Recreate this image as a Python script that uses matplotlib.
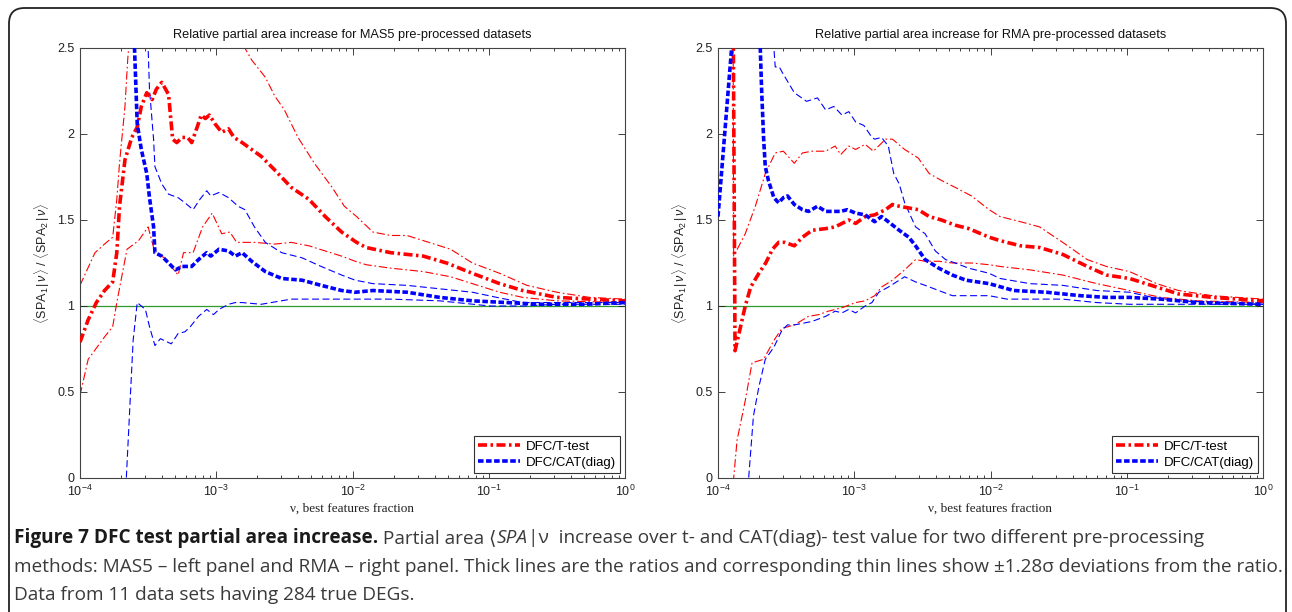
import numpy as np
import matplotlib
matplotlib.use("Agg")
import matplotlib.pyplot as plt
from matplotlib.patches import FancyBboxPatch
from matplotlib.ticker import LogLocator, FixedLocator, NullFormatter

plt.rcParams['font.family'] = ['Liberation Sans', 'DejaVu Sans']
plt.rcParams['mathtext.fontset'] = 'custom'
plt.rcParams['mathtext.rm'] = 'Liberation Sans'
plt.rcParams['mathtext.it'] = 'Liberation Sans:italic'
plt.rcParams['mathtext.bf'] = 'Liberation Sans:bold'
plt.rcParams['lines.scale_dashes'] = False

# ---------------- data: (log10 nu, ratio) ----------------
panel_titles = ["Relative partial area increase for MAS5 pre-processed datasets",
                "Relative partial area increase for RMA pre-processed datasets"]
legend_labels = ["DFC/T-test", "DFC/CAT(diag)"]
y_ticks = [0, 0.5, 1, 1.5, 2, 2.5]
y_tick_labels = ["0", "0.5", "1", "1.5", "2", "2.5"]

mas5_t_ratio = [(-4.00, 0.79), (-3.94, 0.92), (-3.88, 1.02), (-3.82, 1.09), (-3.76, 1.14),
                (-3.73, 1.31), (-3.71, 1.58), (-3.67, 1.85), (-3.62, 1.98), (-3.58, 2.04),
                (-3.55, 2.16), (-3.51, 2.24), (-3.47, 2.20), (-3.44, 2.26), (-3.40, 2.30),
                (-3.35, 2.23), (-3.32, 1.97), (-3.29, 1.95), (-3.25, 1.98), (-3.21, 1.98),
                (-3.18, 1.95), (-3.14, 2.04), (-3.11, 2.11), (-3.08, 2.09), (-3.05, 2.11),
                (-3.01, 2.06), (-2.96, 2.01), (-2.91, 2.03), (-2.87, 1.98), (-2.81, 1.95),
                (-2.74, 1.91), (-2.67, 1.87), (-2.57, 1.79), (-2.45, 1.69), (-2.32, 1.62),
                (-2.20, 1.52), (-2.08, 1.43), (-1.97, 1.37), (-1.90, 1.34), (-1.72, 1.31),
                (-1.48, 1.29), (-1.31, 1.25), (-1.12, 1.19), (-0.92, 1.13), (-0.75, 1.09),
                (-0.50, 1.05), (-0.26, 1.04), (0.00, 1.03)]
mas5_t_hi = [(-4.00, 1.12), (-3.89, 1.31), (-3.82, 1.36), (-3.76, 1.40), (-3.73, 1.62),
             (-3.71, 1.83), (-3.67, 2.16), (-3.65, 2.43), (-3.62, 2.75), (-3.40, 3.20),
             (-2.95, 3.00), (-2.86, 2.75), (-2.79, 2.50), (-2.74, 2.43), (-2.64, 2.33),
             (-2.57, 2.22), (-2.50, 2.14), (-2.40, 1.98), (-2.28, 1.83), (-2.15, 1.69),
             (-2.06, 1.58), (-1.97, 1.52), (-1.85, 1.43), (-1.72, 1.41), (-1.60, 1.41),
             (-1.48, 1.38), (-1.28, 1.33), (-1.12, 1.25), (-0.92, 1.19), (-0.72, 1.12),
             (-0.50, 1.08), (-0.26, 1.05), (0.00, 1.04)]
mas5_t_lo = [(-4.00, 0.48), (-3.94, 0.69), (-3.82, 0.82), (-3.76, 0.88), (-3.73, 1.02),
             (-3.655, 1.33), (-3.57, 1.38), (-3.50, 1.46), (-3.45, 1.31), (-3.38, 1.28),
             (-3.28, 1.18), (-3.24, 1.31), (-3.17, 1.31), (-3.10, 1.46), (-3.03, 1.54),
             (-2.96, 1.42), (-2.90, 1.43), (-2.85, 1.37), (-2.72, 1.37), (-2.57, 1.36),
             (-2.45, 1.37), (-2.32, 1.35), (-2.20, 1.32), (-2.08, 1.29), (-1.98, 1.26),
             (-1.90, 1.24), (-1.72, 1.22), (-1.48, 1.20), (-1.28, 1.17), (-1.12, 1.13),
             (-0.92, 1.08), (-0.75, 1.05), (-0.50, 1.03), (0.00, 1.02)]
mas5_c_ratio = [(-3.62, 2.90), (-3.60, 2.50), (-3.58, 2.06), (-3.55, 1.91), (-3.51, 1.77),
                (-3.49, 1.63), (-3.46, 1.46), (-3.45, 1.31), (-3.40, 1.29), (-3.35, 1.25),
                (-3.30, 1.21), (-3.25, 1.23), (-3.18, 1.23), (-3.13, 1.27), (-3.07, 1.31),
                (-3.04, 1.29), (-2.98, 1.33), (-2.91, 1.32), (-2.86, 1.29), (-2.81, 1.31),
                (-2.74, 1.26), (-2.64, 1.20), (-2.52, 1.16), (-2.37, 1.15), (-2.23, 1.12),
                (-2.08, 1.09), (-1.98, 1.08), (-1.85, 1.09), (-1.60, 1.08), (-1.36, 1.05),
                (-1.12, 1.03), (-0.87, 1.02), (-0.62, 1.01), (-0.30, 1.01), (0.00, 1.02)]
mas5_c_hi = [(-3.52, 2.90), (-3.50, 2.50), (-3.49, 2.26), (-3.46, 1.97), (-3.45, 1.81),
             (-3.40, 1.71), (-3.35, 1.65), (-3.28, 1.63), (-3.23, 1.60), (-3.17, 1.56),
             (-3.12, 1.62), (-3.07, 1.67), (-3.04, 1.64), (-2.98, 1.66), (-2.91, 1.63),
             (-2.84, 1.58), (-2.79, 1.56), (-2.72, 1.46), (-2.64, 1.37), (-2.52, 1.31),
             (-2.37, 1.28), (-2.23, 1.23), (-2.08, 1.18), (-1.98, 1.15), (-1.85, 1.13),
             (-1.60, 1.12), (-1.36, 1.10), (-1.12, 1.08), (-0.94, 1.05), (-0.75, 1.02),
             (0.00, 1.02)]
mas5_c_lo = [(-3.68, -0.30), (-3.66, 0.00), (-3.61, 0.80), (-3.58, 1.02), (-3.52, 0.98),
             (-3.49, 0.88), (-3.45, 0.77), (-3.41, 0.81), (-3.33, 0.78), (-3.28, 0.84),
             (-3.23, 0.85), (-3.19, 0.88), (-3.13, 0.94), (-3.07, 0.98), (-3.02, 0.95),
             (-2.98, 0.98), (-2.91, 1.01), (-2.86, 1.02), (-2.81, 1.02), (-2.67, 1.01),
             (-2.45, 1.04), (-2.13, 1.04), (-1.72, 1.04), (-1.36, 1.03), (-0.99, 1.00),
             (-0.75, 1.00), (-0.50, 1.01), (0.00, 1.01)]

rma_t_ratio = [(-4.00, 3.20), (-3.89, 2.90), (-3.875, 0.74), (-3.84, 0.86), (-3.80, 1.00),
               (-3.76, 1.11), (-3.70, 1.19), (-3.65, 1.25), (-3.60, 1.33), (-3.555, 1.37),
               (-3.51, 1.37), (-3.44, 1.35), (-3.38, 1.40), (-3.31, 1.44), (-3.21, 1.45),
               (-3.14, 1.46), (-3.04, 1.50), (-2.99, 1.48), (-2.92, 1.52), (-2.85, 1.53),
               (-2.77, 1.56), (-2.72, 1.59), (-2.67, 1.58), (-2.60, 1.57), (-2.53, 1.56),
               (-2.45, 1.52), (-2.36, 1.50), (-2.26, 1.47), (-2.16, 1.45), (-2.01, 1.40),
               (-1.93, 1.38), (-1.78, 1.35), (-1.64, 1.34), (-1.47, 1.30), (-1.29, 1.23),
               (-1.15, 1.18), (-0.98, 1.16), (-0.78, 1.11), (-0.62, 1.07), (-0.37, 1.05),
               (0.00, 1.03)]
rma_t_hi = [(-4.00, 3.30), (-3.89, 3.00), (-3.885, 1.29), (-3.80, 1.42), (-3.726, 1.58),
            (-3.653, 1.77), (-3.58, 1.89), (-3.52, 1.90), (-3.44, 1.83), (-3.38, 1.89),
            (-3.31, 1.90), (-3.21, 1.90), (-3.14, 1.93), (-3.10, 1.88), (-3.04, 1.93),
            (-2.99, 1.91), (-2.92, 1.94), (-2.86, 1.90), (-2.77, 1.97), (-2.72, 1.97),
            (-2.63, 1.91), (-2.53, 1.86), (-2.45, 1.77), (-2.36, 1.73), (-2.26, 1.69),
            (-2.14, 1.64), (-2.01, 1.56), (-1.93, 1.52), (-1.78, 1.49), (-1.64, 1.46),
            (-1.47, 1.37), (-1.29, 1.27), (-1.15, 1.23), (-0.98, 1.20), (-0.78, 1.13),
            (-0.62, 1.09), (-0.37, 1.06), (0.00, 1.04)]
rma_t_lo = [(-3.89, -0.30), (-3.885, 0.00), (-3.86, 0.22), (-3.80, 0.45), (-3.75, 0.67),
            (-3.665, 0.69), (-3.59, 0.80), (-3.53, 0.87), (-3.44, 0.89), (-3.335, 0.94),
            (-3.26, 0.95), (-3.19, 0.97), (-3.09, 0.99), (-2.99, 1.02), (-2.92, 1.03),
            (-2.85, 1.06), (-2.80, 1.11), (-2.72, 1.15), (-2.63, 1.21), (-2.55, 1.27),
            (-2.48, 1.26), (-2.38, 1.26), (-2.28, 1.25), (-2.14, 1.25), (-2.01, 1.24),
            (-1.93, 1.23), (-1.71, 1.21), (-1.47, 1.18), (-1.22, 1.13), (-0.98, 1.09),
            (-0.75, 1.05), (-0.48, 1.03), (0.00, 1.02)]
rma_c_ratio = [(-4.00, 1.52), (-3.90, 2.50), (-3.88, 2.90), (-3.72, 3.20), (-3.70, 2.75),
               (-3.68, 2.26), (-3.665, 1.97), (-3.653, 1.81), (-3.63, 1.73), (-3.59, 1.63),
               (-3.555, 1.60), (-3.52, 1.63), (-3.49, 1.64), (-3.44, 1.59), (-3.38, 1.56),
               (-3.335, 1.55), (-3.27, 1.58), (-3.21, 1.55), (-3.10, 1.55), (-3.05, 1.56),
               (-2.99, 1.54), (-2.92, 1.53), (-2.85, 1.49), (-2.80, 1.52), (-2.75, 1.49),
               (-2.67, 1.44), (-2.60, 1.40), (-2.55, 1.35), (-2.48, 1.27), (-2.38, 1.22),
               (-2.28, 1.18), (-2.18, 1.15), (-2.01, 1.13), (-1.83, 1.09), (-1.59, 1.08),
               (-1.34, 1.06), (-1.15, 1.05), (-0.98, 1.05), (-0.75, 1.04), (-0.48, 1.02),
               (0.00, 1.01)]
rma_c_hi = [(-3.62, 3.20), (-3.59, 2.50), (-3.58, 2.39), (-3.55, 2.39), (-3.53, 2.36),
            (-3.44, 2.24), (-3.35, 2.19), (-3.27, 2.21), (-3.21, 2.14), (-3.15, 2.16),
            (-3.09, 2.11), (-3.04, 2.13), (-2.99, 2.07), (-2.93, 2.05), (-2.87, 1.98),
            (-2.85, 1.97), (-2.80, 1.98), (-2.75, 1.93), (-2.71, 1.77), (-2.67, 1.71),
            (-2.63, 1.60), (-2.55, 1.46), (-2.48, 1.42), (-2.405, 1.32), (-2.33, 1.27),
            (-2.26, 1.25), (-2.16, 1.22), (-2.01, 1.19), (-1.93, 1.16), (-1.71, 1.13),
            (-1.47, 1.12), (-1.22, 1.09), (-0.98, 1.08), (-0.81, 1.05), (-0.62, 1.03),
            (0.00, 1.01)]
rma_c_lo = [(-3.79, -0.30), (-3.775, 0.00), (-3.74, 0.36), (-3.70, 0.53), (-3.653, 0.69),
            (-3.59, 0.76), (-3.53, 0.86), (-3.49, 0.89), (-3.44, 0.89), (-3.31, 0.91),
            (-3.21, 0.94), (-3.14, 0.97), (-3.09, 0.96), (-3.04, 0.98), (-2.99, 0.96),
            (-2.92, 1.00), (-2.87, 1.02), (-2.82, 1.08), (-2.75, 1.11), (-2.67, 1.15),
            (-2.63, 1.17), (-2.55, 1.14), (-2.48, 1.12), (-2.38, 1.09), (-2.28, 1.06),
            (-2.16, 1.06), (-2.01, 1.06), (-1.88, 1.04), (-1.71, 1.04), (-1.47, 1.04),
            (-1.22, 1.02), (-0.98, 1.01), (0.00, 1.01)]

caption_bold = "Figure 7 DFC test partial area increase."
caption_line1 = [(" Partial area \u27e8", "normal"), ("SPA", "italic"),
                 ("|\u03bd  increase over t- and CAT(diag)- test value for two different pre-processing", "normal")]
caption_line2 = ("methods: MAS5 \u2013 left panel and RMA \u2013 right panel. Thick lines are the ratios "
                 "and corresponding thin lines show \u00b11.28\u03c3 deviations from the ratio.")
caption_line3 = "Data from 11 data sets having 284 true DEGs."

# ---------------- figure ----------------
W, H = 1292, 612
fig = plt.figure(figsize=(W / 100, H / 100), dpi=100)
fig.patch.set_facecolor('white')

# outer rounded frame
frame = FancyBboxPatch((9 / W, -30 / H), (1286 - 9) / W, (604 + 30) / H,
                       boxstyle="round,pad=0,rounding_size=0.012",
                       transform=fig.transFigure, fill=False, ec='#222222', lw=1.3,
                       mutation_aspect=W / H)
fig.add_artist(frame)

RED = '#ff0000'
BLUE = '#0000ff'
thick_dd = (0, (6.5, 2.5, 1.8, 2.5))
thin_dd = (0, (6.0, 2.0, 1.2, 2.0))
thick_d = (0, (4.0, 1.8))
thin_d = (0, (5.0, 2.5))


def unzip(series):
    lx = np.array([p[0] for p in series])
    v = np.array([p[1] for p in series])
    return 10.0 ** lx, v


panel_data = [
    (mas5_t_ratio, mas5_t_hi, mas5_t_lo, mas5_c_ratio, mas5_c_hi, mas5_c_lo),
    (rma_t_ratio, rma_t_hi, rma_t_lo, rma_c_ratio, rma_c_hi, rma_c_lo),
]
axes_px = [(80, 48, 625, 478), (718, 48, 1263, 478)]

for i, (title, data, (x0, y0, x1, y1)) in enumerate(zip(panel_titles, panel_data, axes_px)):
    ax = fig.add_axes([x0 / W, 1 - y1 / H, (x1 - x0) / W, (y1 - y0) / H])
    t_r, t_h, t_l, c_r, c_h, c_l = data
    ax.axhline(1.0, color='#2f9a2f', lw=0.9, zorder=1)
    for s in (t_h, t_l):
        ax.plot(*unzip(s), color=RED, lw=0.8, linestyle=thin_dd, zorder=2)
    for s in (c_h, c_l):
        ax.plot(*unzip(s), color=BLUE, lw=0.8, linestyle=thin_d, zorder=2)
    lr, = ax.plot(*unzip(t_r), color=RED, lw=2.6, linestyle=thick_dd, zorder=3,
                  label=legend_labels[0])
    lb, = ax.plot(*unzip(c_r), color=BLUE, lw=2.6, linestyle=thick_d, zorder=3,
                  label=legend_labels[1])

    ax.set_xscale('log')
    ax.set_xlim(1e-4, 1)
    ax.set_ylim(0, 2.5)
    ax.yaxis.set_major_locator(FixedLocator(y_ticks))
    ax.set_yticklabels(y_tick_labels)
    ax.xaxis.set_major_locator(LogLocator(base=10, numticks=10))
    ax.xaxis.set_minor_locator(LogLocator(base=10, subs=np.arange(2, 10), numticks=100))
    ax.xaxis.set_minor_formatter(NullFormatter())
    ax.tick_params(which='both', direction='in', top=True, right=True,
                   labelsize=9, colors='#222222', width=0.6)
    ax.tick_params(which='major', length=5, pad=4)
    ax.tick_params(which='minor', length=2.5)
    for sp in ax.spines.values():
        sp.set_color('#444444')
        sp.set_linewidth(0.8)

    ax.set_title(title, fontsize=9.2, color='#111111', pad=7)
    ax.set_xlabel("\u03bd, best features fraction", fontsize=9.5, color='#222222',
                  family=['Liberation Serif', 'DejaVu Serif'], labelpad=3)
    ax.set_ylabel(r"$\langle$SPA$_1\,|\,\nu\rangle$ / $\langle$SPA$_2\,|\,\nu\rangle$",
                  fontsize=9, color='#222222', labelpad=4)
    leg = ax.legend(handles=[lr, lb], loc='lower right', fontsize=9.5, frameon=True,
                    fancybox=False, edgecolor='#333333', framealpha=1,
                    borderaxespad=0.35, handlelength=3.2, handletextpad=0.4,
                    borderpad=0.35, labelspacing=0.3)
    leg.get_frame().set_linewidth(0.8)

# ---------------- caption ----------------
cap_family = ['Open Sans', 'DejaVu Sans']
renderer = fig.canvas.get_renderer()

probe = fig.text(0, 0, caption_line2, fontsize=11, family=cap_family)
w2 = probe.get_window_extent(renderer).width
probe.remove()
cap_size = 11 * (1283 - 14) / w2

x_left = 14
ys = [543, 572, 600]


def put(x_px, y_px, s, **kw):
    t = fig.text(x_px / W, 1 - y_px / H, s, fontsize=cap_size, family=cap_family,
                 ha='left', va='baseline', **kw)
    return x_px + t.get_window_extent(renderer).width

x = put(x_left, ys[0], caption_bold, weight='bold', color='#1a1a1a')
for s, style in caption_line1:
    x = put(x, ys[0], s, style=style, color='#3a3a3a')
put(x_left, ys[1], caption_line2, color='#3a3a3a')
put(x_left, ys[2], caption_line3, color='#3a3a3a')

fig.savefig("out.png", dpi=100, facecolor='white')
